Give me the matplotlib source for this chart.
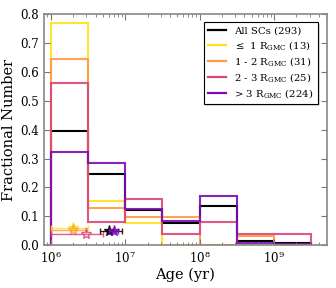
import numpy as np
import matplotlib
matplotlib.use("Agg")
import matplotlib.pyplot as plt
from matplotlib.lines import Line2D

plt.rcParams['font.family'] = ['DejaVu Serif']
plt.rcParams['mathtext.fontset'] = 'dejavuserif'

log_edges = [6.0, 6.5, 7.0, 7.5, 8.0, 8.5, 9.0, 9.5]
frac_all = [0.396, 0.246, 0.123, 0.078, 0.137, 0.014, 0.007]
frac_le1 = [0.769, 0.154, 0.077, 0.0, 0.0, 0.0, 0.0]
frac_1_2 = [0.645, 0.129, 0.097, 0.097, 0.0, 0.032, 0.0]
frac_2_3 = [0.56, 0.08, 0.16, 0.04, 0.08, 0.04, 0.04]
frac_gt3 = [0.321, 0.286, 0.125, 0.085, 0.170, 0.009, 0.004]

labels = ['All SCs (293)', r'$\leq$ 1 R$_{\rm GMC}$ (13)', r'1 - 2 R$_{\rm GMC}$ (31)',
          r'2 - 3 R$_{\rm GMC}$ (25)', r'> 3 R$_{\rm GMC}$ (224)']
colors = ['black', '#FFE21A', '#FF9a45', '#D8467C', '#7A0DB2']

# median ages (stars) with x-ranges
star_x = [6.0e6, 2.0e6, 2.0e6, 3.0e6, 7.0e6]
star_y = [0.05, 0.06, 0.053, 0.04, 0.05]
star_lo = [4.6e6, 1.0e6, 1.0e6, 1.0e6, 6.0e6]
star_hi = [9.0e6, 3.2e6, 3.0e6, 5.0e6, 8.0e6]

fig = plt.figure(figsize=(3.36, 2.88), dpi=100)
ax = fig.add_axes([0.131, 0.148, 0.842, 0.804])

edges = 10 ** np.array(log_edges)
series = [frac_all, frac_le1, frac_1_2, frac_2_3, frac_gt3]
for vals, c, lab in zip(series, colors, labels):
    ax.stairs(vals, edges, color=c, lw=1.5, alpha=0.9 if c != 'black' else 1.0,
              label=lab, baseline=0, fill=False)

for i in [1, 2, 3, 0, 4]:
    x = star_x[i]
    ax.errorbar(x, star_y[i], xerr=[[x - star_lo[i]], [star_hi[i] - x]],
                fmt='none', ecolor=colors[i], elinewidth=1.0, capsize=2, alpha=0.85)
    ax.plot(x, star_y[i], marker='*', ms=8, mfc='none' if i in (2, 3) else colors[i],
            mec=colors[i], mew=1.0, ls='none', alpha=0.85)

ax.set_xscale('log')
ax.set_xlim(10 ** 5.91, 10 ** 9.71)
ax.set_ylim(0, 0.8)
ax.set_yticks(np.arange(0, 0.81, 0.1))
ax.set_xlabel('Age (yr)', fontsize=10.5, labelpad=1)
ax.set_ylabel('Fractional Number', fontsize=10.5, labelpad=3)
ax.tick_params(axis='both', which='both', direction='in', labelsize=8.5,
               top=True, right=True, color='#777777')
ax.tick_params(which='major', length=4)
ax.tick_params(which='minor', length=2)
for s in ax.spines.values():
    s.set_color('#888888')
    s.set_linewidth(1.2)

hs = [Line2D([], [], color=c, lw=1.6) for c in colors]
leg = ax.legend(hs, labels, loc='upper right', fontsize=7.3, frameon=True,
                fancybox=False, edgecolor='black', handlelength=1.8,
                borderpad=0.4, labelspacing=0.3, handletextpad=0.8,
                shadow={'color': '#c8c8c8', 'ox': 1.2, 'oy': -1.2}, framealpha=1.0,
                bbox_to_anchor=(0.985, 0.985))
leg.get_frame().set_linewidth(0.8)

fig.savefig('out.png', dpi=100)
